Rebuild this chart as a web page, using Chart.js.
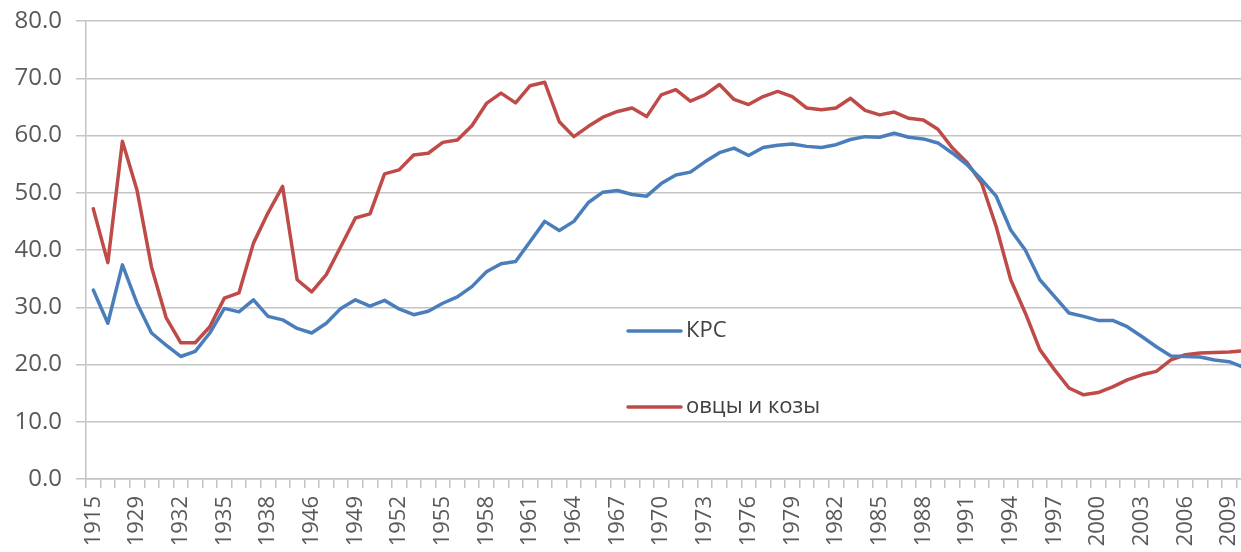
<!DOCTYPE html>
<html><head><meta charset="utf-8">
<script src="https://cdn.jsdelivr.net/npm/chart.js@4.4.1/dist/chart.umd.min.js"></script>
<style>
html,body{margin:0;padding:0;overflow:hidden;background:#fff;width:1241px;height:552px}
#wrap{position:absolute;left:0;top:0;width:1251px;height:552px}
</style>
</head><body><div id="wrap"><canvas id="c" width="1251" height="552"></canvas></div>
<script>
const categories = ['1915','1923','1928','1929','1930','1931','1932','1933','1934','1935','1936','1937','1938','1941','1945',
 '1946','1947','1948','1949','1950','1951','1952','1953','1954','1955','1956','1957','1958','1959','1960',
 '1961','1962','1963','1964','1965','1966','1967','1968','1969','1970','1971','1972','1973','1974','1975',
 '1976','1977','1978','1979','1980','1981','1982','1983','1984','1985','1986','1987','1988','1989','1990',
 '1991','1992','1993','1994','1995','1996','1997','1998','1999','2000','2001','2002','2003','2004','2005',
 '2006','2007','2008','2009','2010'];

const krs = [33.0,27.2,37.4,30.7,25.5,23.4,21.4,22.3,25.5,29.8,29.2,31.3,28.4,27.8,26.3,
 25.5,27.2,29.8,31.3,30.2,31.2,29.7,28.7,29.3,30.7,31.8,33.6,36.2,37.6,38.0,
 41.5,45.0,43.4,45.0,48.3,50.1,50.4,49.7,49.4,51.6,53.1,53.6,55.4,57.0,57.8,
 56.5,57.9,58.3,58.5,58.1,57.9,58.4,59.3,59.8,59.7,60.4,59.7,59.4,58.7,56.9,
 54.9,52.3,49.4,43.5,40.0,34.8,31.9,29.0,28.4,27.7,27.7,26.6,24.9,23.1,21.5,
 21.4,21.3,20.8,20.5,19.5];

const sheepGoats = [47.2,37.8,59.0,50.5,37.0,28.2,23.8,23.8,26.6,31.6,32.5,41.2,46.5,51.1,34.8,
 32.7,35.7,40.6,45.6,46.3,53.3,54.0,56.6,56.9,58.8,59.2,61.7,65.6,67.4,65.7,
 68.7,69.3,62.4,59.8,61.6,63.2,64.2,64.8,63.3,67.1,68.0,66.0,67.1,68.9,66.3,
 65.4,66.8,67.7,66.8,64.8,64.5,64.8,66.5,64.4,63.6,64.1,63.0,62.7,61.1,57.8,
 55.3,51.7,44.1,34.8,29.0,22.6,19.1,15.9,14.7,15.1,16.1,17.3,18.2,18.8,20.8,
 21.7,22.0,22.1,22.2,22.4];

const seriesNames = ['КРС','овцы и козы'];
const seriesColors = ['#4A7EBB','#BE4B48'];
const yMin = 0, yMax = 80, yStep = 10;
const labelEvery = 3;

const inlineLegend = {
  id:'inlineLegend',
  afterDatasetsDraw(chart){
    const c = chart.ctx;
    const items = [
      {name:seriesNames[0], color:seriesColors[0], x:628, y:331},
      {name:seriesNames[1], color:seriesColors[1], x:628, y:407}
    ];
    c.save();
    items.forEach(it=>{
      c.strokeStyle = it.color; c.lineWidth = 3.5; c.lineCap='round';
      c.beginPath(); c.moveTo(it.x, it.y); c.lineTo(it.x+53, it.y); c.stroke();
      c.fillStyle = '#404040';
      c.font = '22px "Open Sans"';
      c.textBaseline = 'middle'; c.textAlign='left';
      c.fillText(it.name, it.x+58, it.y);
    });
    c.restore();
  }
};

new Chart(document.getElementById('c'), {
  type:'line',
  data:{
    labels:categories,
    datasets:[
      {label:seriesNames[0], data:krs, borderColor:seriesColors[0], borderWidth:3.5, pointRadius:0, tension:0, fill:false, borderJoinStyle:'round', borderCapStyle:'round'},
      {label:seriesNames[1], data:sheepGoats, borderColor:seriesColors[1], borderWidth:3.5, pointRadius:0, tension:0, fill:false, borderJoinStyle:'round', borderCapStyle:'round'}
    ]
  },
  options:{
    responsive:false, animation:false, devicePixelRatio:1,
    layout:{padding:{top:21,right:0,left:0,bottom:0}},
    plugins:{legend:{display:false}, tooltip:{enabled:false}},
    scales:{
      x:{
        type:'category', offset:true,
        grid:{display:true, drawOnChartArea:false, drawTicks:true, tickLength:9, color:'#c4c4c4', lineWidth:1.5, offset:true},
        border:{display:true, color:'#c4c4c4', width:1.5},
        ticks:{autoSkip:false, maxRotation:90, minRotation:90, padding:8, color:'#595959',
          font:{family:'Open Sans', size:22},
          callback:(v,i)=> i%labelEvery===0 ? categories[i] : ''},
        afterFit:s=>{s.height=73; s.paddingLeft=0; s.paddingRight=0;}
      },
      y:{
        min:yMin, max:yMax,
        ticks:{stepSize:yStep, padding:14, color:'#595959', font:{family:'Open Sans', size:24},
          callback:v=>Number(v).toFixed(1)},
        grid:{color:'#c4c4c4', lineWidth:1.5, tickLength:10},
        border:{display:true, color:'#c4c4c4', width:1.5},
        afterFit:s=>{s.width=86; s.paddingTop=0; s.paddingBottom=0;}
      }
    }
  },
  plugins:[inlineLegend]
});
</script>
</body></html>
